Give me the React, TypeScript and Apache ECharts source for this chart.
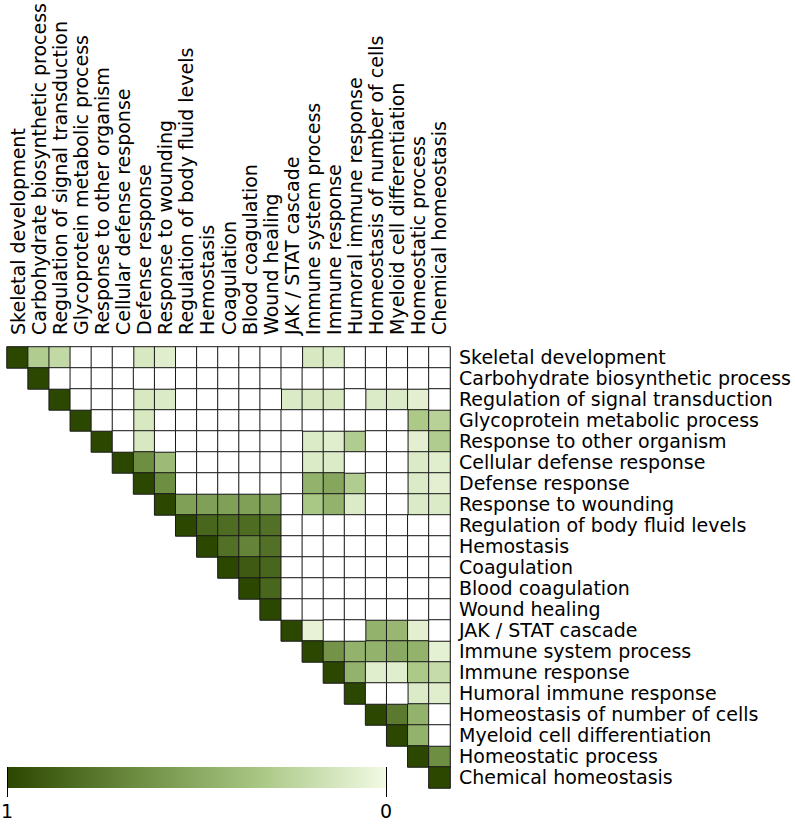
import React, { useEffect, useRef } from "react";
import * as echarts from "echarts";

const categories = [
  "Skeletal development",
  "Carbohydrate biosynthetic process",
  "Regulation of signal transduction",
  "Glycoprotein metabolic process",
  "Response to other organism",
  "Cellular defense response",
  "Defense response",
  "Response to wounding",
  "Regulation of body fluid levels",
  "Hemostasis",
  "Coagulation",
  "Blood coagulation",
  "Wound healing",
  "JAK / STAT cascade",
  "Immune system process",
  "Immune response",
  "Humoral immune response",
  "Homeostasis of number of cells",
  "Myeloid cell differentiation",
  "Homeostatic process",
  "Chemical homeostasis",
];

// Upper-triangle similarity rows: row i lists values for columns i..20
const row0 = [1, 0.3, 0.22, 0, 0, 0, 0.12, 0.08, 0, 0, 0, 0, 0, 0, 0.12, 0.1, 0, 0, 0, 0, 0];
const row1 = [1, 0, 0, 0, 0, 0, 0, 0, 0, 0, 0, 0, 0, 0, 0, 0, 0, 0, 0, 0];
const row2 = [1, 0, 0, 0, 0.12, 0.1, 0, 0, 0, 0, 0, 0.1, 0.12, 0.12, 0, 0.1, 0.1, 0.07, 0];
const row3 = [1, 0, 0, 0.12, 0, 0, 0, 0, 0, 0, 0, 0, 0, 0, 0, 0, 0.32, 0.27];
const row4 = [1, 0, 0.12, 0, 0, 0, 0, 0, 0, 0, 0.1, 0.08, 0.3, 0, 0, 0.07, 0.3];
const row5 = [1, 0.65, 0.4, 0, 0, 0, 0, 0, 0, 0.1, 0.1, 0, 0, 0, 0.1, 0.08];
const row6 = [1, 0.65, 0, 0, 0, 0, 0, 0, 0.45, 0.52, 0.3, 0, 0, 0.1, 0.07];
const row7 = [1, 0.55, 0.55, 0.55, 0.55, 0.55, 0, 0.33, 0.45, 0.1, 0, 0, 0.1, 0.1];
const row8 = [1, 0.85, 0.82, 0.82, 0.8, 0, 0, 0, 0, 0, 0, 0, 0];
const row9 = [1, 0.8, 0.7, 0.8, 0, 0, 0, 0, 0, 0, 0, 0];
const row10 = [1, 0.9, 0.85, 0, 0, 0, 0, 0, 0, 0, 0];
const row11 = [1, 0.85, 0, 0, 0, 0, 0, 0, 0, 0];
const row12 = [1, 0, 0, 0, 0, 0, 0, 0, 0];
const row13 = [1, 0.05, 0, 0, 0.45, 0.42, 0.07, 0];
const row14 = [1, 0.62, 0.45, 0.45, 0.5, 0.45, 0.06];
const row15 = [1, 0.45, 0.08, 0.08, 0.32, 0.2];
const row16 = [1, 0, 0, 0.1, 0.08];
const row17 = [1, 0.75, 0.45, 0];
const row18 = [1, 0.45, 0];
const row19 = [1, 0.65];
const row20 = [1];

const rows = [row0, row1, row2, row3, row4, row5, row6, row7, row8, row9, row10,
  row11, row12, row13, row14, row15, row16, row17, row18, row19, row20];

const colorStops = ["#f2fae4", "#a9c784", "#6b8b3f", "#2c4700"]; // 0 -> 1
const scaleLabels = ["1", "0"];

export default function App() {
  const ref = useRef<HTMLDivElement>(null);
  useEffect(() => {
    if (!ref.current) return;
    const chart = echarts.init(ref.current, undefined, { renderer: "svg" });
    const filled: number[][] = [];
    const empty: number[][] = [];
    rows.forEach((r, i) => {
      r.forEach((v, k) => {
        const j = i + k;
        if (v > 0) filled.push([j, i, v]);
        else empty.push([j, i, 0]);
      });
    });
    const font = "DejaVu Sans";
    const fs = 19;
    const barL = 7, barR = 386, barT = 767, barB = 788;
    chart.setOption({
      animation: false,
      backgroundColor: "#fff",
      grid: { left: 7, top: 345, width: 443, height: 443 },
      xAxis: {
        type: "category",
        data: categories,
        position: "top",
        axisLine: { show: true, lineStyle: { color: "#aaa", width: 1 } },
        axisTick: { show: false },
        splitLine: { show: false },
        axisLabel: {
          rotate: -90,
          interval: 0,
          margin: 12,
          padding: [6, 0, 0, 0],
          fontFamily: font,
          fontSize: fs,
          color: "#000",
        },
      },
      yAxis: {
        type: "category",
        data: categories,
        position: "right",
        inverse: true,
        axisLine: { show: true, lineStyle: { color: "#aaa", width: 1 } },
        axisTick: { show: false },
        splitLine: { show: false },
        axisLabel: {
          interval: 0,
          margin: 9,
          padding: [6, 0, 0, 0],
          fontFamily: font,
          fontSize: fs,
          color: "#000",
        },
      },
      visualMap: [
        {
          show: false,
          type: "continuous",
          min: 0,
          max: 1,
          seriesIndex: 0,
          inRange: { color: colorStops },
        },
        {
          show: false,
          type: "continuous",
          min: 0,
          max: 1,
          seriesIndex: 1,
          inRange: { color: ["#ffffff", "#ffffff"] },
        },
      ],
      series: [
        {
          type: "heatmap",
          data: filled,
          itemStyle: { borderColor: "#1a1a1a", borderWidth: 1 },
          emphasis: { disabled: true },
        },
        {
          type: "heatmap",
          data: empty,
          itemStyle: { borderColor: "#1a1a1a", borderWidth: 1 },
          emphasis: { disabled: true },
        },
      ],
      graphic: [
        {
          type: "rect",
          shape: { x: barL, y: barT, width: barR - barL, height: barB - barT },
          style: {
            fill: new echarts.graphic.LinearGradient(0, 0, 1, 0, [
              { offset: 0, color: colorStops[3] },
              { offset: 1 / 3, color: colorStops[2] },
              { offset: 2 / 3, color: colorStops[1] },
              { offset: 1, color: colorStops[0] },
            ]),
          },
        },
        {
          type: "line",
          shape: { x1: barL + 0.5, y1: barT, x2: barL + 0.5, y2: 797 },
          style: { stroke: "#000", lineWidth: 1 },
        },
        {
          type: "line",
          shape: { x1: barR + 0.5, y1: barT, x2: barR + 0.5, y2: 797 },
          style: { stroke: "#000", lineWidth: 1 },
        },
        {
          type: "text",
          x: barL,
          y: 811,
          style: {
            text: scaleLabels[0],
            fontFamily: font,
            fontSize: fs,
            fill: "#000",
            align: "center",
            verticalAlign: "middle",
          },
        },
        {
          type: "text",
          x: barR,
          y: 811,
          style: {
            text: scaleLabels[1],
            fontFamily: font,
            fontSize: fs,
            fill: "#000",
            align: "center",
            verticalAlign: "middle",
          },
        },
      ],
    });
    return () => chart.dispose();
  }, []);
  return (
    <div
      ref={ref}
      style={{ position: "fixed", left: 0, top: 0, width: 795, height: 824 }}
    />
  );
}
